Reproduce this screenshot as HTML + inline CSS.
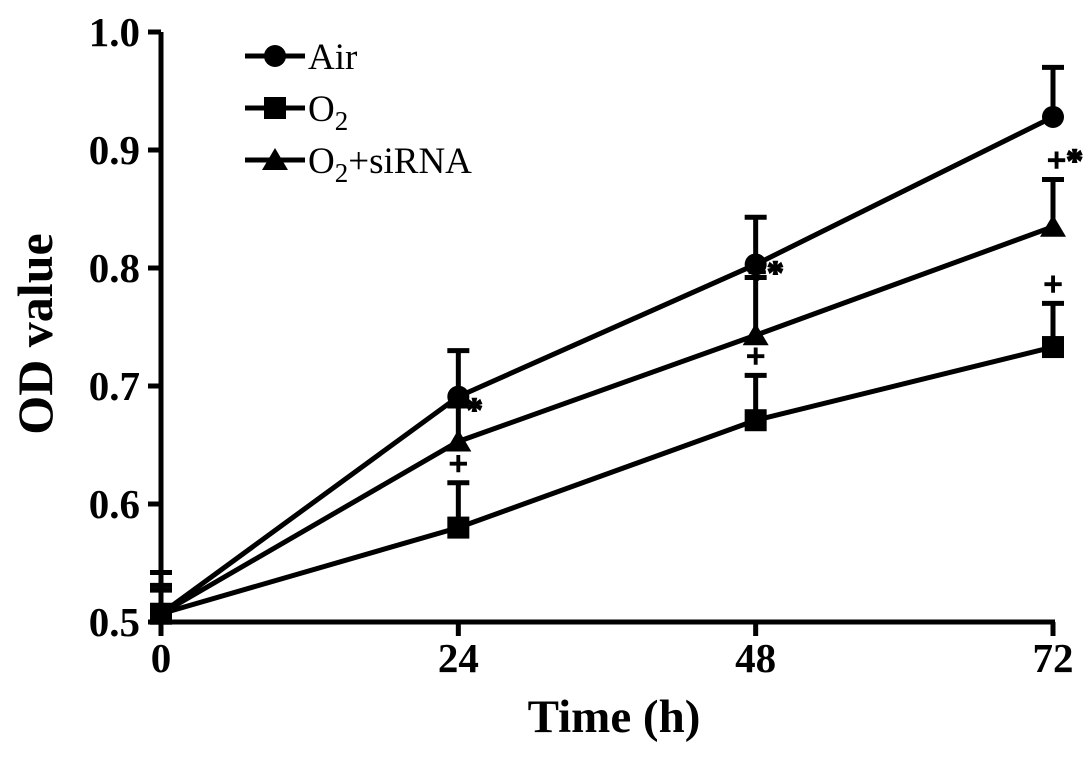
<!DOCTYPE html>
<html><head><meta charset="utf-8"><style>
body{margin:0;background:#fff}
svg{display:block}
text{font-family:"Liberation Serif",serif;fill:#000}
</style></head><body>
<svg id="c" width="1087" height="775"></svg>
<script>
const categories=[0,24,48,72];
const airValues=[0.507,0.691,0.803,0.928];
const airErr=[0.035,0.039,0.040,0.042];
const o2Values=[0.507,0.580,0.671,0.733];
const o2Err=[0.024,0.038,0.038,0.037];
const sirnaValues=[0.507,0.653,0.743,0.835];
const sirnaErr=[0.02,0.03,0.049,0.040];
const yTicks=[0.5,0.6,0.7,0.8,0.9,1.0];
const yTickLabels=["0.5","0.6","0.7","0.8","0.9","1.0"];
const xTickLabels=["0","24","48","72"];
const NS="http://www.w3.org/2000/svg";
const svg=document.getElementById('c');
const X=v=>161+(v/72)*892;
const Y=v=>622-(v-0.5)*1180;
function el(t,a,p){const e=document.createElementNS(NS,t);for(const k in a)e.setAttribute(k,a[k]);(p||svg).appendChild(e);return e;}
const axes=el('g',{});


el('line',{x1:161,y1:Y(1),x2:161,y2:622,stroke:'#000','stroke-width':5},axes);
el('line',{x1:161,y1:622,x2:1055,y2:622,stroke:'#000','stroke-width':5},axes);
yTicks.forEach((v,i)=>{
 el('line',{x1:148,y1:Y(v),x2:161,y2:Y(v),stroke:'#000','stroke-width':5},axes);
 const t=el('text',{x:140,y:Y(v)+14,'text-anchor':'end','font-size':41,'font-weight':'bold'},axes);
 t.textContent=yTickLabels[i];
 
 
});
categories.forEach((c,i)=>{
 el('line',{x1:X(c),y1:622,x2:X(c),y2:636,stroke:'#000','stroke-width':5},axes);
 const t=el('text',{x:X(c),y:672,'text-anchor':'middle','font-size':41,'font-weight':'bold'},axes);
 t.textContent=xTickLabels[i];
 
 
});
const xt=el('text',{x:614,y:732,'text-anchor':'middle','font-size':47,'font-weight':'bold'});
xt.textContent='Time (h)';


const yt=el('text',{x:52,y:334,'text-anchor':'middle','font-size':50,'font-weight':'bold',transform:'rotate(-90 52 334)'});
yt.textContent='OD value';


function marker(kind,x,y,g){
 if(kind==='circle')return el('circle',{cx:x,cy:y,r:11,fill:'#000'},g);
 if(kind==='square')return el('rect',{x:x-11,y:y-11,width:22,height:22,fill:'#000'},g);
 return el('polygon',{points:`${x},${y-12} ${x+13},${y+10} ${x-13},${y+10}`,fill:'#000'},g);
}
const series=[[airValues,airErr,'circle','series-air'],[o2Values,o2Err,'square','series-o2'],[sirnaValues,sirnaErr,'triangle','series-o2-sirna']];
series.forEach(([vals,err,kind,name])=>{
 const g=el('g',{});
 
 
 el('polyline',{points:vals.map((v,i)=>X(categories[i])+','+Y(v)).join(' '),fill:'none',stroke:'#000','stroke-width':5},g);
 vals.forEach((v,i)=>{
  const x=X(categories[i]);
  el('line',{x1:x,y1:Y(v),x2:x,y2:Y(v+err[i]),stroke:'#000','stroke-width':5},g);
  el('line',{x1:x-11,y1:Y(v+err[i]),x2:x+11,y2:Y(v+err[i]),stroke:'#000','stroke-width':5},g);
  const m=marker(kind,x,Y(v),g);
  
  
 });
});
function note(txt,x,y){const t=el('text',{x:x,y:y,'font-size':34,'font-weight':'bold','text-anchor':'middle',stroke:'#000','stroke-width':1.5});t.textContent=txt;
 
 }
note('*',X(24)+16,Y(airValues[1])+24);
note('+',X(24),Y(o2Values[1]+o2Err[1])-8);
note('+',X(48),Y(o2Values[2]+o2Err[2])-8);
note('+',X(72),Y(o2Values[3]+o2Err[3])-8);
note('+*',X(48)+10,Y(sirnaValues[2]+sirnaErr[2])+6);
note('+*',X(72)+12,Y(sirnaValues[3]+sirnaErr[3])-8);
const leg=el('g',{});


[['circle','Air',56],['square','O₂',108],['triangle','O₂+siRNA',160]].forEach(([k,l,y])=>{
 const g=el('g',{},leg);
 
 
 el('line',{x1:245,y1:y,x2:305,y2:y,stroke:'#000','stroke-width':5},g);
 marker(k,275,y,g);
 const t=el('text',{x:308,y:y+13,'font-size':37},g);
 t.innerHTML=l==='Air'?'Air':(l==='O₂'?'O<tspan font-size="27" dy="9">2</tspan>':'O<tspan font-size="27" dy="9">2</tspan><tspan dy="-9">+siRNA</tspan>');
});
</script>
</body></html>
